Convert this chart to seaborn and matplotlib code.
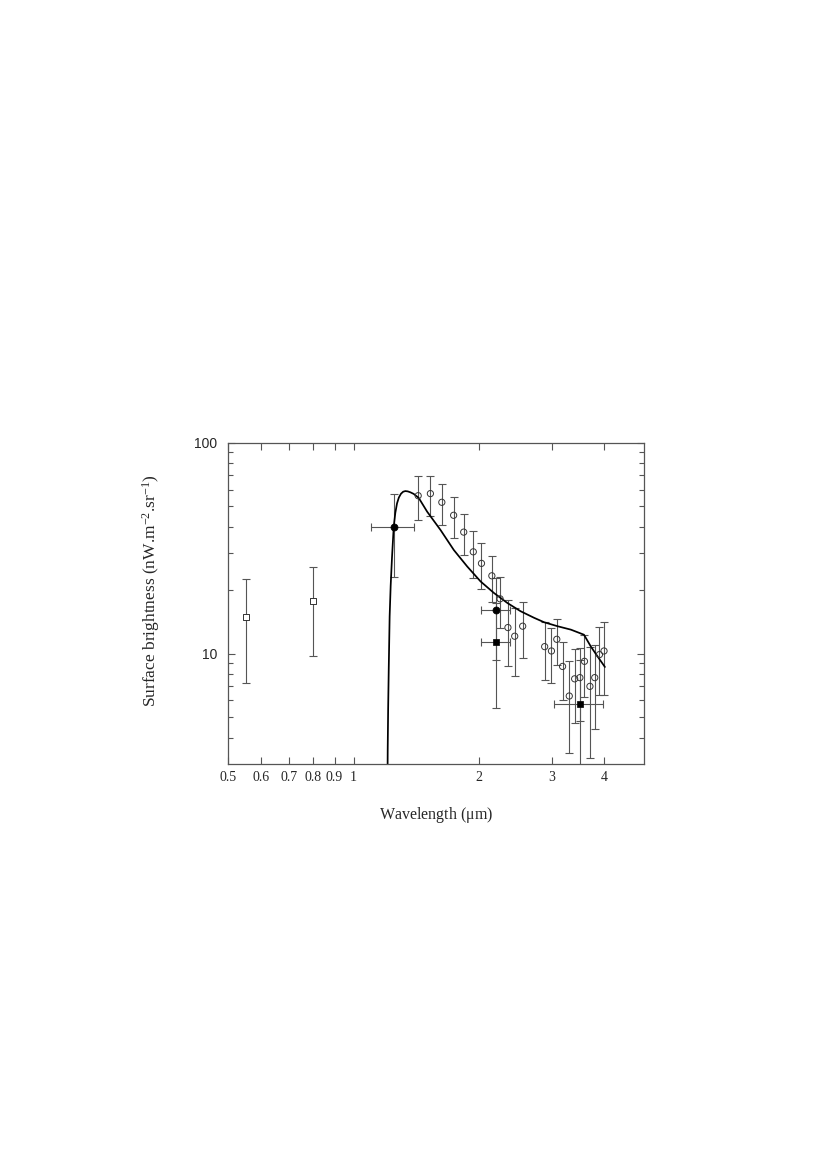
import numpy as np
import pandas as pd
import matplotlib
matplotlib.use("Agg")
import matplotlib.pyplot as plt
import seaborn as sns
from matplotlib.ticker import FixedLocator, FixedFormatter, NullFormatter, NullLocator

# ---------------- data ----------------
# open circles (spectrum)
spec_wl = [1.43, 1.53, 1.63, 1.74, 1.84, 1.94, 2.03, 2.15, 2.25, 2.35, 2.44, 2.55,
           2.88, 2.99, 3.08, 3.18, 3.30, 3.40, 3.50, 3.59, 3.70, 3.80, 3.90, 4.00]
spec_val = [56.1, 57.4, 52.2, 45.3, 37.7, 30.4, 26.8, 23.4, 18.2, 13.3, 12.1, 13.5,
            10.8, 10.3, 11.7, 8.7, 6.3, 7.6, 7.7, 9.2, 7.0, 7.7, 9.9, 10.3]
spec_err = [13.2, 12.5, 11.3, 9.9, 8.4, 7.6, 6.6, 5.8, 5.0, 4.6, 4.3, 4.0,
            3.3, 3.0, 2.9, 2.7, 2.9, 2.9, 2.9, 3.0, 3.8, 3.3, 3.5, 3.9]

# filled circles
fc_wl = [1.25, 2.2]
fc_val = [40.0, 16.1]
fc_yerr = [17.0, 6.8]
fc_xerr = [0.15, 0.18]

# filled squares
fs_wl = [2.2, 3.5]
fs_val = [11.4, 5.8]
fs_yerr = [5.9, 3.5]
fs_xerr = [0.18, 0.47]

# open squares
os_wl = [0.55, 0.80]
os_val = [15.0, 17.7]
os_yerr = [7.7, 8.0]

# model curve
model_wl = [1.205, 1.208, 1.211, 1.215, 1.221, 1.228, 1.237, 1.249, 1.260, 1.272, 1.285,
            1.300, 1.316, 1.332, 1.350, 1.370, 1.395, 1.434, 1.503, 1.618, 1.742, 1.876,
            2.02, 2.175, 2.342, 2.52, 2.715, 2.87, 3.09, 3.33, 3.58, 3.72, 3.86, 4.02]
model_val = [1.5, 3.5, 5.5, 8.5, 15.0, 21.0, 28.5, 40.0, 46.5, 51.6, 55.0,
             57.3, 58.6, 59.0, 58.8, 58.2, 57.2, 54.8, 47.1, 38.6, 31.0, 25.9,
             22.0, 19.4, 17.4, 15.9, 14.8, 14.1, 13.5, 13.0, 12.3, 10.8, 9.7, 8.65]

xticks = [0.5, 0.6, 0.7, 0.8, 0.9, 1, 2, 3, 4]
xticklabels = ["0.5", "0.6", "0.7", "0.8", "0.9", "1", "2", "3", "4"]

# ---------------- plot ----------------
sns.set_style("ticks")
plt.rcParams["font.family"] = ["Liberation Serif", "DejaVu Serif"]
plt.rcParams["mathtext.fontset"] = "custom"
plt.rcParams["mathtext.rm"] = "Liberation Serif"
plt.rcParams["mathtext.it"] = "Liberation Serif:italic"

fig = plt.figure(figsize=(8.3, 11.75), dpi=100)
ax = fig.add_axes([0.2751, 0.3498, 0.5012, 0.2734])
ax.set_xscale("log")
ax.set_yscale("log")

ecol = "#555555"
ekw = dict(fmt="none", ecolor=ecol, elinewidth=0.8, capsize=2.6, capthick=0.8, zorder=1)

ax.errorbar(spec_wl, spec_val, yerr=spec_err, **ekw)
ax.errorbar(fc_wl, fc_val, yerr=fc_yerr, xerr=fc_xerr, **ekw)
ax.errorbar(fs_wl, fs_val, yerr=fs_yerr, xerr=fs_xerr, **ekw)
ax.errorbar(os_wl, os_val, yerr=os_yerr, **ekw)

sns.lineplot(x=model_wl, y=model_val, ax=ax, color="black", lw=1.25, zorder=2,
             sort=False, estimator=None)

sns.scatterplot(x=spec_wl, y=spec_val, ax=ax, marker="o", s=20,
                facecolor="none", edgecolor="#333333", linewidth=0.7, zorder=3)
sns.scatterplot(x=fc_wl, y=fc_val, ax=ax, marker="o", s=26,
                color="black", edgecolor="black", linewidth=0.5, zorder=3)
sns.scatterplot(x=fs_wl, y=fs_val, ax=ax, marker="s", s=24,
                color="black", edgecolor="black", linewidth=0.5, zorder=3)
sns.scatterplot(x=os_wl, y=os_val, ax=ax, marker="s", s=16,
                facecolor="white", edgecolor="#333333", linewidth=0.7, zorder=3)

ax.set_xlim(0.5, 5.0)
ax.set_ylim(3.0, 100)

ax.xaxis.set_major_locator(FixedLocator(xticks))
ax.xaxis.set_major_formatter(FixedFormatter(xticklabels))
ax.xaxis.set_minor_locator(NullLocator())
ax.xaxis.set_minor_formatter(NullFormatter())

ax.yaxis.set_major_locator(FixedLocator([10, 100]))
ax.yaxis.set_major_formatter(FixedFormatter(["10", "100"]))
ax.yaxis.set_minor_locator(FixedLocator([4, 5, 6, 7, 8, 9, 20, 30, 40, 50, 60, 70, 80, 90]))
ax.yaxis.set_minor_formatter(NullFormatter())

ax.tick_params(axis="both", which="both", direction="in", top=True, right=True,
               color="#555555", width=0.8)
ax.tick_params(axis="both", which="major", length=5)
ax.tick_params(axis="both", which="minor", length=3.5)
ax.tick_params(axis="x", which="major", labelsize=10, pad=5)
ax.tick_params(axis="y", which="major", labelsize=10, pad=8)
for lab in ax.get_yticklabels():
    lab.set_fontfamily(["Liberation Sans", "DejaVu Sans"])

for sp in ax.spines.values():
    sp.set_color("#555555")
    sp.set_linewidth(0.9)

ax.set_xlabel("Wavelength ($\\mathrm{\\mu}$m)", fontsize=11.5, labelpad=15)
ax.set_ylabel("Surface brightness (nW.m$^{-2}$.sr$^{-1}$)", fontsize=12.5)
ax.yaxis.set_label_coords(-0.16, 0.54)

fig.savefig("out.png", dpi=100, facecolor="white")
